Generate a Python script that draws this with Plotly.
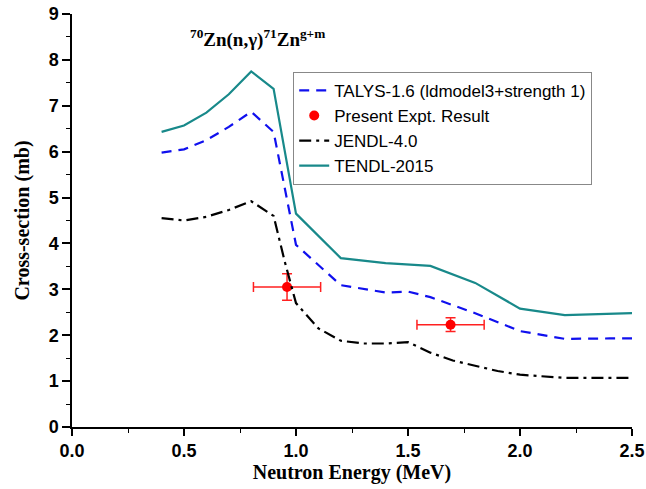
import plotly.graph_objects as go

# TALYS-1.6 (ldmodel3+strength 1)
talys_x = [0.4, 0.5, 0.6, 0.7, 0.8, 0.9, 1.0, 1.2, 1.4, 1.5, 1.6, 1.8, 2.0, 2.2, 2.4, 2.5]
talys_y = [5.98, 6.05, 6.25, 6.54, 6.87, 6.43, 3.97, 3.09, 2.93, 2.95, 2.83, 2.48, 2.09, 1.92, 1.93, 1.93]

# JENDL-4.0
jendl_x = [0.4, 0.5, 0.6, 0.7, 0.8, 0.9, 0.95, 1.0, 1.1, 1.2, 1.3, 1.4, 1.5, 1.6, 1.7, 1.8, 1.9, 2.0, 2.2, 2.5]
jendl_y = [4.55, 4.5, 4.58, 4.73, 4.92, 4.6, 3.6, 2.7, 2.15, 1.88, 1.82, 1.82, 1.85, 1.62, 1.45, 1.33, 1.22, 1.14, 1.07, 1.07]

# TENDL-2015
tendl_x = [0.4, 0.5, 0.6, 0.7, 0.8, 0.9, 1.0, 1.2, 1.4, 1.6, 1.8, 2.0, 2.2, 2.5]
tendl_y = [6.43, 6.57, 6.85, 7.25, 7.75, 7.37, 4.65, 3.68, 3.57, 3.51, 3.14, 2.58, 2.44, 2.48]

# Present experimental result
expt_x = [0.96, 1.69]
expt_y = [3.05, 2.23]
expt_xerr = [0.15, 0.15]
expt_yerr = [0.29, 0.15]

teal = "#18898a"

fig = go.Figure()
fig.add_trace(go.Scatter(
    x=talys_x, y=talys_y, mode="lines", name="TALYS-1.6 (ldmodel3+strength 1)",
    line=dict(color="#1010ee", width=2.2, dash="10px,7px")))
fig.add_trace(go.Scatter(
    x=expt_x, y=expt_y, mode="markers", name="Present Expt. Result",
    marker=dict(color="#ff0000", size=10),
    error_x=dict(type="data", array=expt_xerr, color="#ff2020", thickness=1.5, width=5),
    error_y=dict(type="data", array=expt_yerr, color="#ff2020", thickness=1.5, width=5)))
fig.add_trace(go.Scatter(
    x=jendl_x, y=jendl_y, mode="lines", name="JENDL-4.0",
    line=dict(color="#000000", width=2.2, dash="12px,5px,3px,5px")))
fig.add_trace(go.Scatter(
    x=tendl_x, y=tendl_y, mode="lines", name="TENDL-2015",
    line=dict(color=teal, width=2.2)))

fig.add_annotation(
    x=0.83, y=8.47, xref="x", yref="y", showarrow=False,
    text="<b><sup>70</sup>Zn(n,γ)<sup>71</sup>Zn<sup>g+m</sup></b>",
    font=dict(family="Liberation Serif", size=19, color="#000000"))

fig.update_layout(
    width=646, height=489,
    margin=dict(l=72, r=14, t=14, b=62),
    paper_bgcolor="white", plot_bgcolor="white",
    showlegend=True,
    legend=dict(x=0.395, y=0.86, xanchor="left", yanchor="top",
                bgcolor="white", bordercolor="#888888", borderwidth=1,
                font=dict(family="Liberation Sans", size=17, color="#000000"),
                tracegroupgap=0, itemwidth=30),
    xaxis=dict(range=[0, 2.5], dtick=0.5, tickformat=".1f", automargin=False,
               showgrid=False, zeroline=False, showline=True, linecolor="black", linewidth=1.5,
               ticks="outside", ticklen=7, tickwidth=1.5, tickcolor="black",
               minor=dict(dtick=0.25, ticks="outside", ticklen=4, tickwidth=1.2, tickcolor="black"),
               tickfont=dict(family="Liberation Sans", size=18, color="black", weight="bold"),
               title=dict(text="<b>Neutron Energy (MeV)</b>", standoff=4,
                          font=dict(family="Liberation Serif", size=20, color="black"))),
    yaxis=dict(range=[0, 9], dtick=1, automargin=False,
               showgrid=False, zeroline=False, showline=True, linecolor="black", linewidth=1.5,
               ticks="outside", ticklen=8, tickwidth=1.5, tickcolor="black",
               minor=dict(dtick=0.5, ticks="outside", ticklen=4, tickwidth=1.2, tickcolor="black"),
               tickfont=dict(family="Liberation Sans", size=18, color="black", weight="bold"),
               title=dict(text="<b>Cross-section (mb)</b>", standoff=14,
                          font=dict(family="Liberation Serif", size=20, color="black"))),
)

fig.write_html("out.html")
